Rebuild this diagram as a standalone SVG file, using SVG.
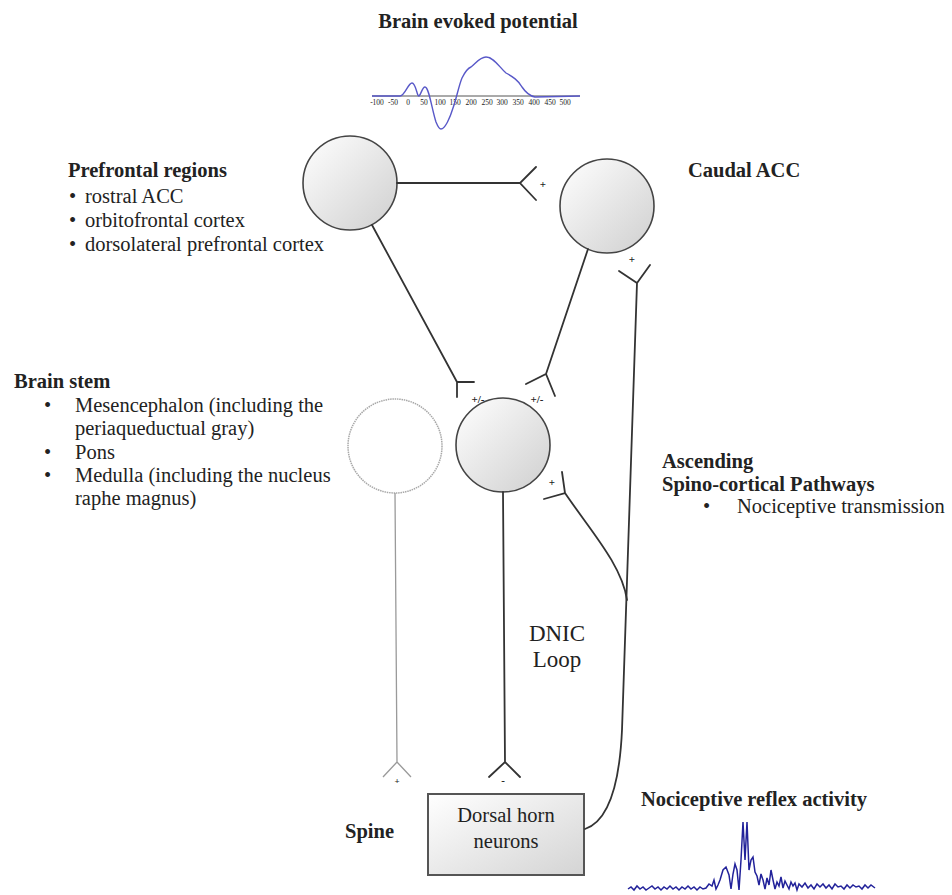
<svg xmlns="http://www.w3.org/2000/svg" width="952" height="895" viewBox="0 0 952 895">
<defs>
<linearGradient id="cg" x1="0" y1="0" x2="1" y2="1">
<stop offset="0" stop-color="#ffffff"/>
<stop offset="1" stop-color="#cfcfcf"/>
</linearGradient>
<linearGradient id="bg" x1="0" y1="0" x2="1" y2="1">
<stop offset="0" stop-color="#ffffff"/>
<stop offset="1" stop-color="#d4d4d4"/>
</linearGradient>
<style>
text{font-family:"Liberation Serif","Times New Roman",serif;fill:#222}
.t{font-size:20.5px}
.b{font-size:20.5px;font-weight:bold}
.s{font-size:11px;font-weight:bold}
.ax{font-family:"Liberation Sans",Arial,sans-serif;font-size:7.5px;fill:#333}
.cell{fill:url(#cg);stroke:#444;stroke-width:1.6}
.ln{fill:none;stroke:#333;stroke-width:1.8;stroke-linecap:round}
.lt{fill:none;stroke:#9a9a9a;stroke-width:1.3}
</style>
</defs>
<rect width="952" height="895" fill="#fff"/>

<g id="evoked-potential">
<text class="b" x="478" y="28" text-anchor="middle">Brain evoked potential</text>
<line x1="372" y1="96" x2="580" y2="96" stroke="#555" stroke-width="1"/>
<g class="ax" text-anchor="middle">
<text x="377" y="105">-100</text><text x="393" y="105">-50</text><text x="408" y="105">0</text><text x="424" y="105">50</text><text x="440" y="105">100</text><text x="455" y="105">150</text><text x="471" y="105">200</text><text x="487" y="105">250</text><text x="502" y="105">300</text><text x="518" y="105">350</text><text x="534" y="105">400</text><text x="550" y="105">450</text><text x="565" y="105">500</text>
</g>
<path d="M 372 96 L 400 96 C 405 96 408 83 412 83 C 416 83 417 97 419 96 C 421 95 422 87 425 87 C 429 87 432 110 436 122 C 438 127 440 129 441 129 C 445 129 450 118 453 108 C 456 100 459 85 462 78 C 465 72 468 68 471 67 C 476 63 480 57 486 57 C 494 57 500 68 506 73 C 513 77 518 80 522 87 C 526 93 530 96 535 97 L 580 96" fill="none" stroke="#5858c8" stroke-width="1.4"/>
</g>

<g id="prefrontal">
<circle class="cell" cx="350" cy="183" r="47"/>
<text class="b" x="68" y="177">Prefrontal regions</text>
<text class="t" x="69" y="203">• <tspan x="85">rostral ACC</tspan></text>
<text class="t" x="69" y="227">• <tspan x="85">orbitofrontal cortex</tspan></text>
<text class="t" x="69" y="251">• <tspan x="85">dorsolateral prefrontal cortex</tspan></text>
</g>

<g id="caudal-acc">
<circle class="cell" cx="607" cy="206" r="47"/>
<text class="b" x="688" y="177">Caudal ACC</text>
</g>

<g id="brain-stem">
<circle cx="395" cy="446" r="47" fill="#fff" stroke="#a8a8a8" stroke-width="1.5" stroke-dasharray="1.5 0.8"/>
<text class="b" x="14" y="388">Brain stem</text>
<text class="t" x="44" y="412">•</text><text class="t" x="75" y="412">Mesencephalon (including the</text>
<text class="t" x="75" y="435">periaqueductual gray)</text>
<text class="t" x="44" y="459">•</text><text class="t" x="75" y="459">Pons</text>
<text class="t" x="44" y="482">•</text><text class="t" x="75" y="482">Medulla (including the nucleus</text>
<text class="t" x="75" y="505">raphe magnus)</text>
</g>

<g id="dnic-cell">
<circle class="cell" cx="503" cy="445" r="47"/>
</g>

<g id="dorsal-horn">
<rect x="428" y="794" width="156" height="81" fill="url(#bg)" stroke="#555" stroke-width="2"/>
<text class="t" x="506" y="822" text-anchor="middle">Dorsal horn</text>
<text class="t" x="506" y="848" text-anchor="middle">neurons</text>
<text class="b" x="345" y="838">Spine</text>
</g>

<g id="ascending-label">
<text class="b" x="662" y="468">Ascending</text>
<text class="b" x="662" y="491">Spino-cortical Pathways</text>
<text class="t" x="703" y="513">•</text><text class="t" x="737" y="513">Nociceptive transmission</text>
</g>

<g id="reflex">
<text class="b" x="754" y="806" text-anchor="middle">Nociceptive reflex activity</text>
<polyline fill="none" stroke="#22229a" stroke-width="1.5" points="628,889 631,887 634,890 637,886 640,889 643,887 646,890 649,888 652,886 655,889 658,887 661,890 664,887 667,889 670,886 673,889 676,887 679,890 682,887 685,889 688,886 691,889 694,887 697,890 700,887 703,889 706,888 709,884 712,886 714,880 716,889 718,885 720,880 723,870 726,867 729,875 731,889 733,874 735,864 737,870 739,890 741,860 743,822 745,860 747,822 749,870 751,860 753,857 755,872 757,876 759,885 761,874 763,880 765,889 767,878 769,885 771,870 773,880 775,889 777,882 779,886 781,877 783,888 785,881 787,885 789,889 791,882 793,886 795,883 797,890 799,884 802,887 805,883 808,888 811,885 814,889 817,884 820,887 823,884 826,888 829,885 832,889 835,884 838,887 841,886 844,889 847,885 850,888 853,885 856,887 859,886 862,889 865,885 868,888 871,885 875,888"/>
</g>

<g id="connectors">
<path class="ln" d="M 397 183 L 520 183 M 536 167 L 520 183 L 536 200"/>
<text class="s" x="543" y="188" text-anchor="middle">+</text>
<path class="ln" d="M 372 225 L 457 382 M 457 397 L 457 382 L 474 382"/>
<text class="s" x="478" y="403" text-anchor="middle">+/-</text>
<path class="ln" d="M 588 249 L 546 374 M 526 384 L 546 374 L 555 396"/>
<text class="s" x="537" y="403" text-anchor="middle">+/-</text>
<path class="ln" d="M 585 829 Q 618 818 622 730 L 637 283 M 619 271 L 637 283 L 650 265" stroke-width="1.5"/>
<text class="s" x="632" y="263" text-anchor="middle">+</text>
<path class="ln" d="M 565 493 C 590 530 622 565 627 600 M 562 472 L 565 493 L 544 499"/>
<text class="s" x="552" y="486" text-anchor="middle">+</text>
<path class="lt" d="M 395 493 L 397 762 M 383 777 L 397 762 L 411 777"/>
<text class="s" x="397" y="784" text-anchor="middle" style="font-size:9px">+</text>
<path class="ln" d="M 503 492 L 505 762 M 489 777 L 505 762 L 520 777"/>
<text class="s" x="503" y="784" text-anchor="middle">-</text>
<text x="557" y="641" text-anchor="middle" style="font-size:23px">DNIC</text>
<text x="557" y="667" text-anchor="middle" style="font-size:23px">Loop</text>
</g>
</svg>
